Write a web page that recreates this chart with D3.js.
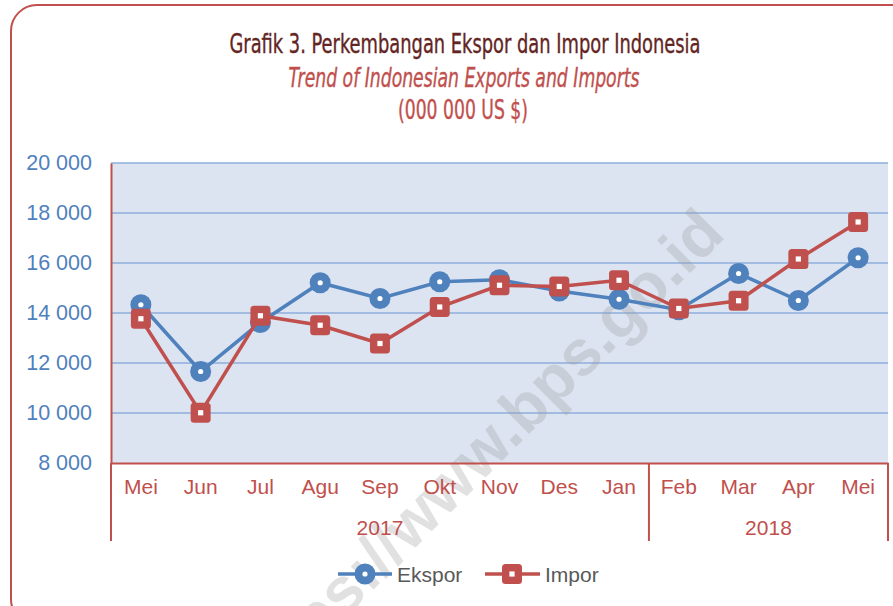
<!DOCTYPE html>
<html>
<head>
<meta charset="utf-8">
<script src="https://cdn.jsdelivr.net/npm/d3@7"></script>
<style>
  body { margin: 0; background: #fff; }
  svg { display: block; }
</style>
</head>
<body>
<div id="chart"></div>
<script>
// data (000 000 US $)
const months = ["Mei", "Jun", "Jul", "Agu", "Sep", "Okt", "Nov", "Des", "Jan", "Feb", "Mar", "Apr", "Mei"];
const years = [
    { label: "2017", from: 0, to: 8 },
    { label: "2018", from: 9, to: 12 },
];
const ekspor = [14330, 11660, 13620, 15210, 14580, 15250, 15330, 14880, 14550, 14130, 15580, 14500, 16210];
const impor = [13770, 10010, 13890, 13510, 12780, 14240, 15110, 15060, 15310, 14180, 14490, 16160, 17640];
const yTicks = [8000, 10000, 12000, 14000, 16000, 18000, 20000];

const W = 893, H = 606;
const blue = "#4f81bd", red = "#c0504d";
const plot = { left: 111, right: 888, top: 163, bottom: 463 };
const bodyFont = "'Liberation Sans', Arial, sans-serif";

const svg = d3.select("#chart").append("svg")
    .attr("width", W)
    .attr("height", H);

// outer rounded frame (runs off the right / bottom edge)
svg.append("rect")
    .attr("x", 11).attr("y", 5)
    .attr("width", 920).attr("height", 620)
    .attr("rx", 26)
    .attr("fill", "none")
    .attr("stroke", red)
    .attr("stroke-width", 2);

// titles
const titleFont = "'Liberation Sans Narrow', 'DejaVu Sans Condensed', 'Roboto Condensed', sans-serif";
const titles = [
    { text: "Grafik 3. Perkembangan Ekspor dan Impor Indonesia", x: 465, y: 53, len: 471, color: "#632523", italic: false },
    { text: "Trend of Indonesian Exports and Imports", x: 464, y: 87, len: 351, color: red, italic: true },
    { text: "(000 000 US $)", x: 463, y: 119, len: 130, color: red, italic: false },
];
svg.append("g")
    .selectAll("text")
    .data(titles)
    .join("text")
    .attr("x", d => d.x).attr("y", d => d.y)
    .attr("text-anchor", "middle")
    .attr("textLength", d => d.len).attr("lengthAdjust", "spacingAndGlyphs")
    .style("font-family", titleFont)
    .style("font-style", d => d.italic ? "italic" : "normal")
    .style("font-size", "26px")
    .attr("fill", d => d.color)
    .attr("stroke", d => d.color)
    .attr("stroke-width", 0.35)
    .text(d => d.text);

// scales
const x = d3.scaleBand()
    .domain(d3.range(months.length))
    .range([plot.left, plot.right]);
const y = d3.scaleLinear()
    .domain([8000, 20000])
    .range([plot.bottom, plot.top]);

// plot background
svg.append("rect")
    .attr("x", plot.left).attr("y", plot.top)
    .attr("width", plot.right - plot.left)
    .attr("height", plot.bottom - plot.top)
    .attr("fill", "#dce4f1");

// gridlines
svg.append("g")
    .selectAll("line")
    .data(yTicks.filter(d => d > 8000))
    .join("line")
    .attr("x1", plot.left).attr("x2", plot.right)
    .attr("y1", d => y(d)).attr("y2", d => y(d))
    .attr("stroke", "#8eaedb")
    .attr("stroke-width", 1.5);

// watermark
svg.append("text")
    .attr("transform", "translate(727,236) rotate(-45)")
    .attr("text-anchor", "end")
    .style("font-family", bodyFont)
    .style("font-weight", "bold")
    .style("font-size", "64px")
    .attr("fill", "#9a9a9a")
    .attr("fill-opacity", 0.3)
    .text("https://www.bps.go.id");

// y axis labels
const fmt = d => d3.format(",")(d).replace(/,/g, " ");
const yAxis = svg.append("g")
    .attr("transform", `translate(${plot.left},0)`)
    .call(d3.axisLeft(y).tickValues(yTicks).tickFormat(fmt).tickSize(0).tickPadding(19));
yAxis.select(".domain")
    .attr("stroke", red)
    .attr("stroke-width", 2);
yAxis.selectAll("text")
    .style("font-family", bodyFont)
    .style("font-size", "21.5px")
    .attr("fill", blue);

// category axis (months with year groups)
const xAxis = svg.append("g")
    .attr("transform", `translate(0,${plot.bottom})`)
    .call(d3.axisBottom(x).tickFormat(i => months[i]).tickSize(0).tickPadding(16));
xAxis.select(".domain")
    .attr("stroke", red)
    .attr("stroke-width", 2);
xAxis.selectAll("text")
    .style("font-family", bodyFont)
    .style("font-size", "21px")
    .attr("fill", red);

const dividers = [years[0].from, years[1].from].map(i => x(i)).concat([x(years[1].to) + x.bandwidth()]);
svg.append("g")
    .selectAll("line")
    .data(dividers)
    .join("line")
    .attr("x1", d => d).attr("x2", d => d)
    .attr("y1", plot.bottom).attr("y2", 541)
    .attr("stroke", red)
    .attr("stroke-width", 2);

svg.append("g")
    .selectAll("text")
    .data(years)
    .join("text")
    .attr("x", d => (x(d.from) + x(d.to) + x.bandwidth()) / 2)
    .attr("y", 535)
    .attr("text-anchor", "middle")
    .style("font-family", bodyFont)
    .style("font-size", "21px")
    .attr("fill", red)
    .text(d => d.label);

// series
const cx = i => x(i) + x.bandwidth() / 2;
const line = d3.line()
    .x((d, i) => cx(i))
    .y(d => y(d));

function circleMarker(g, px, py, r) {
    g.append("circle").attr("cx", px).attr("cy", py).attr("r", r).attr("fill", blue);
    g.append("circle").attr("cx", px).attr("cy", py).attr("r", 2.6).attr("fill", "#fff");
}
function squareMarker(g, px, py, s) {
    g.append("rect")
        .attr("x", px - s / 2).attr("y", py - s / 2)
        .attr("width", s).attr("height", s)
        .attr("rx", 3.5)
        .attr("fill", red);
    g.append("rect")
        .attr("x", px - 2.6).attr("y", py - 2.6)
        .attr("width", 5.2).attr("height", 5.2)
        .attr("fill", "#fff");
}

const gE = svg.append("g");
gE.append("path")
    .datum(ekspor)
    .attr("d", line)
    .attr("fill", "none")
    .attr("stroke", blue)
    .attr("stroke-width", 3.5);
ekspor.forEach((v, i) => circleMarker(gE, cx(i), y(v), 10.5));

const gI = svg.append("g");
gI.append("path")
    .datum(impor)
    .attr("d", line)
    .attr("fill", "none")
    .attr("stroke", red)
    .attr("stroke-width", 3.5);
impor.forEach((v, i) => squareMarker(gI, cx(i), y(v), 20));

// legend
const legend = svg.append("g");
legend.append("line")
    .attr("x1", 338).attr("x2", 392).attr("y1", 574).attr("y2", 574)
    .attr("stroke", blue).attr("stroke-width", 3.5);
circleMarker(legend, 365, 574, 10.5);
legend.append("text")
    .attr("x", 397).attr("y", 581.5)
    .style("font-family", bodyFont)
    .style("font-size", "21px")
    .attr("fill", "#595959")
    .text("Ekspor");
legend.append("line")
    .attr("x1", 485).attr("x2", 540).attr("y1", 574).attr("y2", 574)
    .attr("stroke", red).attr("stroke-width", 3.5);
squareMarker(legend, 512, 574, 20);
legend.append("text")
    .attr("x", 545).attr("y", 581.5)
    .style("font-family", bodyFont)
    .style("font-size", "21px")
    .attr("fill", "#595959")
    .text("Impor");
</script>
</body>
</html>
